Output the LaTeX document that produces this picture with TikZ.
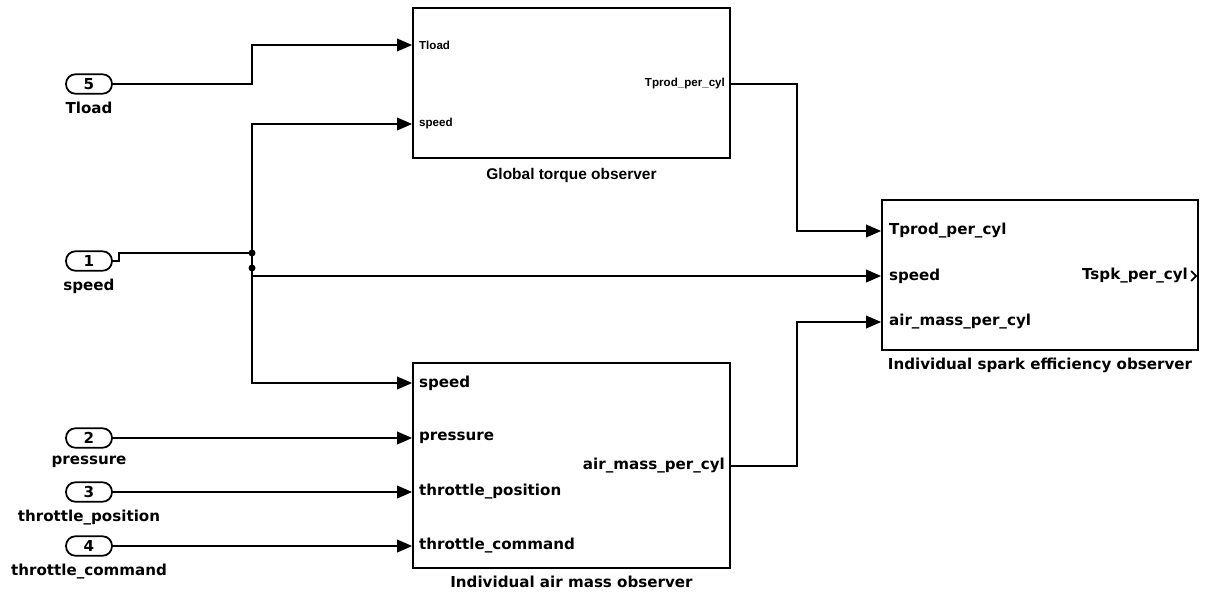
\documentclass[tikz,border=0pt]{standalone}
\usepackage{fontspec}
\setmainfont{DejaVu Sans}
\newfontfamily\arialf{Liberation Sans}
\usepackage{tikz}
\usetikzlibrary{positioning,arrows.meta,calc}

\begin{document}
\begin{tikzpicture}[x=0.02cm, y=-0.02cm,
    every node/.style={font=\fontsize{8.6}{10}\selectfont\bfseries, inner sep=1pt},
    block/.style={draw, line width=1pt, minimum width=6.34cm, inner sep=0pt},
    inport/.style={draw, line width=1pt, rounded corners=0.19cm,
                   minimum width=0.92cm, minimum height=0.39cm, inner sep=0pt},
    smallport/.style={font=\arialf\fontsize{6.6}{8}\selectfont\bfseries},
    smalltitle/.style={font=\arialf\fontsize{8.8}{10}\selectfont\bfseries},
    sig/.style={line width=1.1pt, -{Triangle[length=0.3cm, width=0.25cm]}},
    wire/.style={line width=1.1pt},
    dot/.style={circle, fill, inner sep=0pt, minimum size=0.14cm}]
  \useasboundingbox (0,0) rectangle (1210,595);
  % inports
  \node[inport] (in5) at (89,84) {5};
  \node[below=3pt of in5] (in5lab) {Tload};
  \node[inport] (in1) at (89,261) {1};
  \node[below=3pt of in1] (in1lab) {speed};
  \node[inport] (in2) at (89,438) {2};
  \node[below=3pt of in2] (in2lab) {pressure};
  \node[inport] (in3) at (89,492) {3};
  \node[below=3pt of in3] (in3lab) {throttle\_position};
  \node[inport] (in4) at (89,546) {4};
  \node[below=3pt of in4] (in4lab) {throttle\_command};
  % subsystems
  \node[block, minimum height=3.0cm] (gto) at (571.5,83) {};
  \node[smalltitle, below=4pt of gto] (gtolab) {Global torque observer};
  \node[smallport, anchor=west] (gtoTl) at (417,45) {Tload};
  \node[smallport, anchor=west] (gtoSp) at (417,124) {speed};
  \node[smallport, anchor=east] (gtoTp) at (727,84) {Tprod\_per\_cyl};
  \node[block, minimum height=4.1cm] (asm) at (571.5,465.5) {};
  \node[below=3pt of asm] (asmlab) {Individual air mass observer};
  \node[anchor=west] (asmSp) at (417,383) {speed};
  \node[anchor=west] (asmPr) at (417,438) {pressure};
  \node[anchor=west] (asmTp) at (417,492) {throttle\_position};
  \node[anchor=west] (asmTc) at (417,546) {throttle\_command};
  \node[anchor=east] (asmAm) at (727,466) {air\_mass\_per\_cyl};
  \node[block, minimum width=6.32cm, minimum height=3.0cm] (sek) at (1040,275) {};
  \node[below=3pt of sek] (seklab) {Individual spark efficiency observer};
  \node[anchor=west] (sekTp) at (887,231) {Tprod\_per\_cyl};
  \node[anchor=west] (sekSp) at (887,276) {speed};
  \node[anchor=west] (sekAm) at (887,322) {air\_mass\_per\_cyl};
  \node[anchor=east] (sekTs) at (1190,276) {Tspk\_per\_cyl};
  \draw[line width=1pt] (1191,271) -- (1196,276) -- (1191,281);
  % branch points
  \coordinate (bus) at (252,253);
  \coordinate (bus2) at (252,268);
  \coordinate (col) at (797,0);
  \node[dot] (busdot) at (bus) {};
  \node[dot] (bus2dot) at (bus2) {};
  % signals
  \draw[sig] (in5.east) -- (bus |- in5.east) |- (gto.west |- gtoTl);
  \draw[wire] (in1.east) -- ++(6,0) |- (bus);
  \draw[sig] (bus) |- (gto.west |- gtoSp);
  \draw[sig] (bus) |- (asm.west |- asmSp);
  \draw[sig] (bus2) -- ++(0,8) -- (sek.west |- sekSp);
  \draw[sig] (in2.east) -- (asm.west |- asmPr);
  \draw[sig] (in3.east) -- (asm.west |- asmTp);
  \draw[sig] (in4.east) -- (asm.west |- asmTc);
  \draw[sig] (gto.east |- gtoTp) -- (col |- gtoTp) |- (sek.west |- sekTp);
  \draw[sig] (asm.east |- asmAm) -- (col |- asmAm) |- (sek.west |- sekAm);
\end{tikzpicture}
\end{document}
